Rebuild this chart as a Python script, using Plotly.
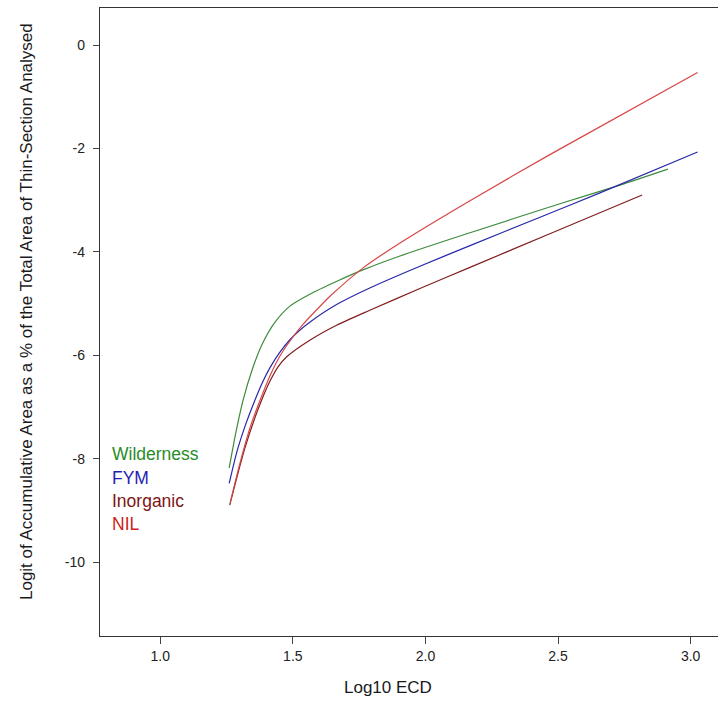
import plotly.graph_objects as go

# ---- data ----
wild_x = [1.260, 1.285, 1.313, 1.346, 1.383, 1.433, 1.489, 1.564, 1.666, 1.764, 1.904, 2.168, 2.507, 2.733, 2.914]
wild_y = [-8.18, -7.50, -6.86, -6.29, -5.80, -5.36, -5.05, -4.82, -4.57, -4.35, -4.08, -3.63, -3.07, -2.71, -2.40]

fym_x = [1.260, 1.290, 1.320, 1.357, 1.385, 1.414, 1.450, 1.489, 1.525, 1.564, 1.665, 1.790, 1.979, 2.168, 2.432, 2.658, 3.026]
fym_y = [-8.48, -7.85, -7.37, -6.87, -6.53, -6.24, -5.95, -5.70, -5.52, -5.36, -5.02, -4.70, -4.28, -3.88, -3.33, -2.86, -2.07]

inorg_x = [1.262, 1.290, 1.319, 1.357, 1.383, 1.414, 1.445, 1.477, 1.564, 1.665, 1.790, 1.979, 2.168, 2.469, 2.817]
inorg_y = [-8.90, -8.34, -7.80, -7.21, -6.86, -6.50, -6.22, -6.03, -5.71, -5.42, -5.13, -4.71, -4.30, -3.65, -2.90]

nil_x = [1.264, 1.300, 1.340, 1.385, 1.420, 1.451, 1.490, 1.539, 1.590, 1.640, 1.765, 1.916, 2.168, 2.469, 3.026]
nil_y = [-8.85, -8.10, -7.38, -6.76, -6.33, -6.02, -5.72, -5.40, -5.12, -4.86, -4.31, -3.79, -3.01, -2.12, -0.53]

series_names = ["Wilderness", "FYM", "Inorganic", "NIL"]
line_colors = ["rgb(60,140,60)", "rgb(40,40,170)", "rgb(130,30,30)", "rgb(215,70,70)"]
text_colors = ["rgb(40,140,40)", "rgb(30,30,180)", "rgb(125,20,20)", "rgb(205,35,35)"]

x_ticks = [1.0, 1.5, 2.0, 2.5, 3.0]
x_tick_text = ["1.0", "1.5", "2.0", "2.5", "3.0"]
y_ticks = [0, -2, -4, -6, -8, -10]
y_tick_text = ["0", "-2", "-4", "-6", "-8", "-10"]

FONT = "Arial, Liberation Sans, sans-serif"

fig = go.Figure()
for name, xs, ys, col in zip(series_names, [wild_x, fym_x, inorg_x, nil_x],
                             [wild_y, fym_y, inorg_y, nil_y], line_colors):
    fig.add_trace(go.Scatter(x=xs, y=ys, mode="lines", name=name,
                             line=dict(color=col, width=1.2, shape="spline", smoothing=0.7),
                             showlegend=False))

# text legend
leg_y = [0.2893, 0.2521, 0.2150, 0.1779]
for name, col, yy in zip(series_names, text_colors, leg_y):
    fig.add_annotation(text=name, xref="paper", yref="paper", x=0.016, y=yy,
                       xanchor="left", yanchor="middle", showarrow=False,
                       font=dict(family=FONT, size=17.5, color=col))

# axis titles
fig.add_annotation(text="Logit of Accumulative Area as a % of the Total Area of Thin-Section Analysed",
                   xref="paper", yref="paper", x=-0.118, y=0.516, textangle=-90,
                   xanchor="center", yanchor="middle", showarrow=False,
                   font=dict(family=FONT, size=17, color="#1a1a1a"))
fig.add_annotation(text="Log10 ECD", xref="paper", yref="paper", x=0.466, y=-0.0828,
                   xanchor="center", yanchor="middle", showarrow=False,
                   font=dict(family=FONT, size=17, color="#1a1a1a"))

fig.update_layout(
    width=718, height=705,
    margin=dict(l=100, r=0, t=8, b=69),
    paper_bgcolor="white", plot_bgcolor="white",
    font=dict(family=FONT, color="#222"),
)
fig.update_xaxes(range=[0.773, 3.103], tickvals=x_ticks, ticktext=x_tick_text,
                 ticks="outside", ticklen=7, tickcolor="#444", tickwidth=1,
                 showline=True, linecolor="#333", linewidth=1.3, mirror=True,
                 showgrid=False, zeroline=False,
                 tickfont=dict(family=FONT, size=14, color="#222"))
fig.update_yaxes(range=[-11.43, 0.716], tickvals=y_ticks, ticktext=y_tick_text,
                 ticks="outside", ticklen=6, tickcolor="#444", tickwidth=1,
                 showline=True, linecolor="#333", linewidth=1.3, mirror=False,
                 showgrid=False, zeroline=False, ticklabelstandoff=5,
                 tickfont=dict(family=FONT, size=14, color="#222"))

fig.write_html("out.html")
